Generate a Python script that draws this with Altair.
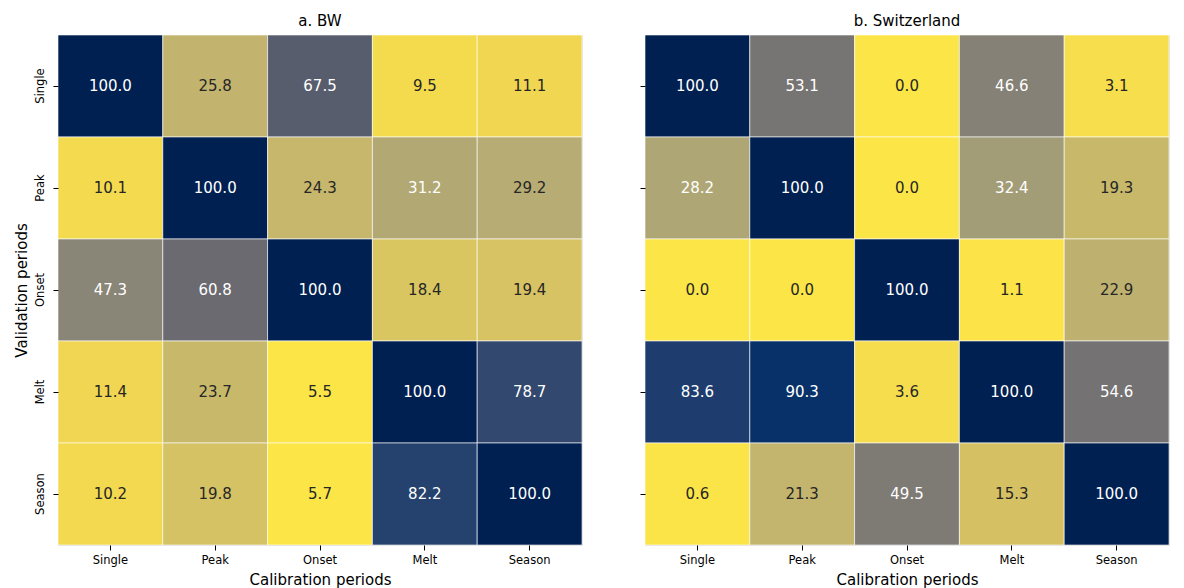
import altair as alt
import pandas as pd

periods = ["Single", "Peak", "Onset", "Melt", "Season"]

bw_single = [100.0, 25.8, 67.5, 9.5, 11.1]
bw_peak = [10.1, 100.0, 24.3, 31.2, 29.2]
bw_onset = [47.3, 60.8, 100.0, 18.4, 19.4]
bw_melt = [11.4, 23.7, 5.5, 100.0, 78.7]
bw_season = [10.2, 19.8, 5.7, 82.2, 100.0]

ch_single = [100.0, 53.1, 0.0, 46.6, 3.1]
ch_peak = [28.2, 100.0, 0.0, 32.4, 19.3]
ch_onset = [0.0, 0.0, 100.0, 1.1, 22.9]
ch_melt = [83.6, 90.3, 3.6, 100.0, 54.6]
ch_season = [0.6, 21.3, 49.5, 15.3, 100.0]

FONT = "DejaVu Sans"


def build_df(rows):
    recs = []
    for vp, vals in zip(periods, rows):
        for cp, v in zip(periods, vals):
            recs.append({"val": vp, "cal": cp, "v": v})
    df = pd.DataFrame(recs)
    lo, hi = df["v"].min(), df["v"].max()
    df["t"] = (df["v"] - lo) / (hi - lo)
    df["label"] = df["v"].map(lambda x: f"{x:.1f}")
    df["tc"] = df["t"].map(lambda t: "white" if t > 0.26 else "dark")
    return df, lo, hi


def panel(rows, title, first):
    df, lo, hi = build_df(rows)
    x = alt.X("cal:N", sort=periods, title="Calibration periods",
              scale=alt.Scale(paddingInner=0, paddingOuter=0),
              axis=alt.Axis(labelAngle=0, labelFontSize=11.5, titleFontSize=15,
                            domain=False, tickSize=5, tickColor="black",
                            labelPadding=4, titlePadding=7, labelColor="black",
                            titleColor="black", labelFont=FONT, titleFont=FONT,
                            titleFontWeight="normal"))
    if first:
        yaxis = alt.Axis(labelAngle=-90, labelAlign="center", labelBaseline="bottom",
                         labelFontSize=11.5, titleFontSize=15, domain=False, tickSize=5,
                         tickColor="black", labelPadding=8, titlePadding=5,
                         labelColor="black", titleColor="black", labelFont=FONT,
                         titleFont=FONT, titleFontWeight="normal")
        ytitle = "Validation periods"
    else:
        yaxis = alt.Axis(labels=False, domain=False, tickSize=5, tickColor="black")
        ytitle = None
    y = alt.Y("val:N", sort=periods, title=ytitle,
              scale=alt.Scale(paddingInner=0, paddingOuter=0), axis=yaxis)
    base = alt.Chart(df)
    rect = base.mark_rect(stroke="white", strokeWidth=0.8, strokeOpacity=0.75).encode(
        x=x, y=y,
        color=alt.Color("v:Q", legend=None,
                        scale=alt.Scale(scheme="cividis", reverse=True, domain=[lo, hi])),
    )
    text = base.mark_text(fontSize=15, font=FONT).encode(
        x=alt.X("cal:N", sort=periods),
        y=alt.Y("val:N", sort=periods),
        text="label:N",
        color=alt.Color("tc:N", legend=None,
                        scale=alt.Scale(domain=["white", "dark"], range=["#ffffff", "#262626"])),
    )
    return alt.layer(rect, text).resolve_scale(color="independent").properties(
        width=524, height=510,
        title=alt.TitleParams(title, fontSize=15, font=FONT, fontWeight="normal",
                              color="black", offset=6),
    )


left = panel([bw_single, bw_peak, bw_onset, bw_melt, bw_season], "a. BW", True)
right = panel([ch_single, ch_peak, ch_onset, ch_melt, ch_season], "b. Switzerland", False)

chart = alt.hconcat(left, right, spacing=56).resolve_scale(color="independent").configure_view(
    stroke=None
).configure(background="white", padding=5)

chart.save("out.html", embed_options={"renderer": "svg", "actions": False})
